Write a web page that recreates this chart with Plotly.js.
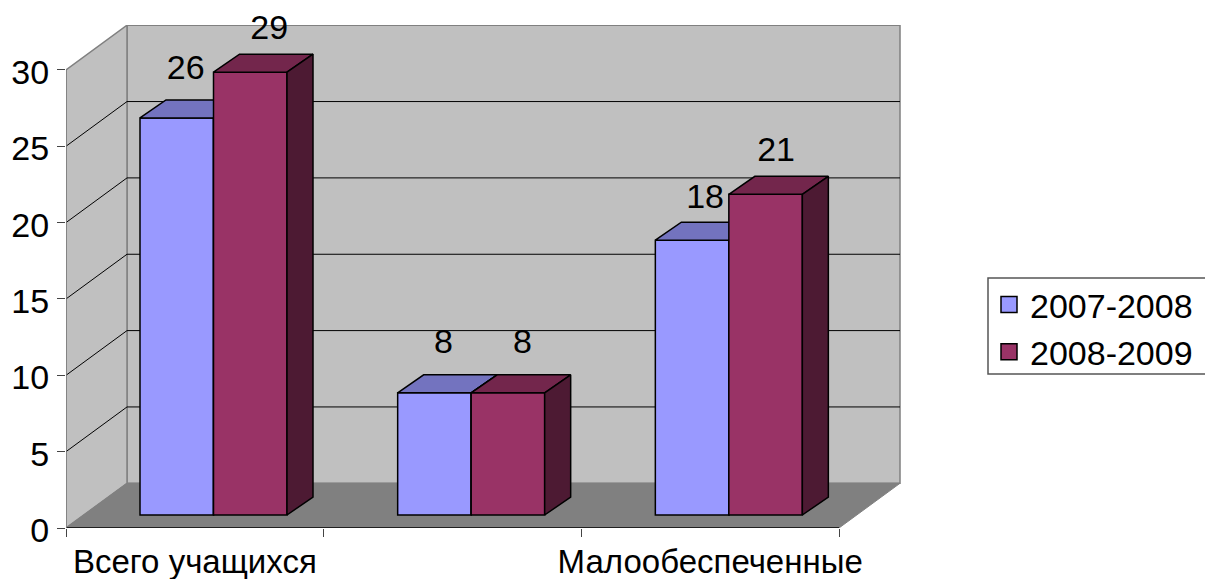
<!DOCTYPE html>
<html><head><meta charset="utf-8">
<script src="https://cdn.plot.ly/plotly-3.0.1.min.js"></script>
<style>html,body{margin:0;padding:0;background:#fff;overflow:hidden}</style>
</head><body><div id="chart" style="width:1205px;height:579px"></div>
<script>
// Data
var categories = ["Всего учащихся", "", "Малообеспеченные"];
var seriesNames = ["2007-2008", "2008-2009"];
var values2007 = [26, 8, 18];
var values2008 = [29, 8, 21];
var valueTicks = [0, 5, 10, 15, 20, 25, 30];

// Styles
var frontColors = ["#9999FF", "#993366"];
var topColors = ["#7373BF", "#73264C"];
var sideColors = ["#4D4D80", "#4D1A33"];

// Geometry (pixels per axis unit, and depth in pixels)
var W = 1205, H = 579, L = 66, R = 901, T = 25, B = 528;
var PX = 257.67, PY = 15.27;
var xMax = (R - L) / PX, yMax = (B - T) / PY;
var wallDx = 61 / PX, wallDy = 44.7 / PY;
var barDx = 26 / PX, barDy = 18 / PY;
var barBase = 13 / PY, barW = 73.5 / PX, barStart = 74 / PX;
var labelShiftX = [[9, 9, 13], [19, 14.5, 10.5]];
var labelShiftY = [[47, 48, 41], [42, 48, 42]];

function sub(i) { return i ? {xaxis: "x2", yaxis: "y2"} : {xaxis: "x", yaxis: "y"}; }
function seriesTraces(vals, s) {
  var off = barStart + s * barW, xs = vals.map(function (_, i) { return i; });
  var tx = [], ty = [], sx = [], sy = [], lx = [], ly = [], lt = [];
  vals.forEach(function (v, i) {
    var x0 = i + off, x1 = x0 + barW, yb = barBase, yt = barBase + v;
    tx.push(x0, x1, x1 + barDx, x0 + barDx, x0, null);
    ty.push(yt, yt, yt + barDy, yt + barDy, yt, null);
    sx.push(x1, x1 + barDx, x1 + barDx, x1, x1, null);
    sy.push(yb, yb + barDy, yt + barDy, yt, yb, null);
    lx.push(x0 + barW / 2 + labelShiftX[s][i] / PX);
    ly.push(yt + labelShiftY[s][i] / PY);
    lt.push(String(v));
  });
  var line = {color: "#000", width: 1.5};
  function merge(a) { var r = sub(s); for (var k in a) r[k] = a[k]; return r; }
  return [
    merge({type: "bar", x: xs, y: vals, base: barBase, width: barW, offset: off, name: seriesNames[s],
      marker: {color: frontColors[s], line: {color: "#000", width: 1.5}}, showlegend: false, hoverinfo: "skip"}),
    merge({type: "scatter", mode: "lines", x: tx, y: ty, fill: "toself", fillcolor: topColors[s], line: line, showlegend: false, hoverinfo: "skip"}),
    merge({type: "scatter", mode: "lines", x: sx, y: sy, fill: "toself", fillcolor: sideColors[s], line: line, showlegend: false, hoverinfo: "skip"}),
    merge({type: "scatter", mode: "text", x: lx, y: ly, text: lt, textposition: "middle center", cliponaxis: false,
      textfont: {family: "Liberation Sans, Arial, sans-serif", size: 34, color: "#000"}, showlegend: false, hoverinfo: "skip"}),
    merge({type: "scatter", mode: "markers", x: [null], y: [null], name: seriesNames[s], showlegend: true,
      marker: {symbol: "square", size: 16, color: frontColors[s], line: {color: "#000", width: 1.5}}})
  ];
}
var traces = seriesTraces(values2007, 0).concat(seriesTraces(values2008, 1));

// Walls, floor and gridlines follow the axes
var shapes = [];
function poly(pts, fill, lineColor, w) {
  var d = pts.map(function (p, i) { return (i ? "L" : "M") + p[0] + "," + p[1]; }).join("") + "Z";
  shapes.push({type: "path", xref: "x", yref: "y", path: d, fillcolor: fill, layer: "below",
    line: {color: lineColor, width: w}});
}
function seg(x0, y0, x1, y1, c, w) {
  shapes.push({type: "line", xref: "x", yref: "y", x0: x0, y0: y0, x1: x1, y1: y1, layer: "below", line: {color: c, width: w}});
}
var yTop = valueTicks[valueTicks.length - 1], nCat = categories.length;
poly([[wallDx, wallDy], [nCat + wallDx, wallDy], [nCat + wallDx, yTop + wallDy], [wallDx, yTop + wallDy]], "#C0C0C0", "#808080", 1.5);
poly([[0, 0], [wallDx, wallDy], [wallDx, yTop + wallDy], [0, yTop]], "#C0C0C0", "#808080", 1.5);
valueTicks.forEach(function (v) {
  if (v === 0 || v === yTop) return;
  seg(0, v, wallDx, v + wallDy, "#000", 1);
  seg(wallDx, v + wallDy, nCat + wallDx, v + wallDy, "#000", 1);
});
poly([[0, 0], [nCat, 0], [nCat + wallDx, wallDy], [wallDx, wallDy]], "#808080", "#808080", 1);
seg(0, 0, nCat, 0, "#000", 1.5);
seg(0, 0, 0, yTop, "#808080", 1.5);

// Legend frame runs off the right edge of the canvas, as in the reference
function px(x) { return (x - L) / (R - L); }
function py(y) { return (B - y) / (B - T); }
shapes.push({type: "rect", xref: "paper", yref: "paper", x0: px(988), x1: px(1230), y0: py(374), y1: py(278),
  fillcolor: "#fff", layer: "below", line: {color: "#555", width: 1.5}});

var font = {family: "Liberation Sans, Arial, sans-serif", size: 34, color: "#000"};
var catFont = {family: "Liberation Sans, Arial, sans-serif", size: 33, color: "#000"};
var layout = {
  width: W, height: H, autosize: false,
  margin: {l: L, r: W - R, t: T, b: H - B, pad: 0},
  paper_bgcolor: "#fff", plot_bgcolor: "rgba(0,0,0,0)",
  barmode: "overlay", showlegend: true, font: font, hovermode: false, shapes: shapes,
  xaxis: {range: [0, xMax], showgrid: false, zeroline: false, showline: false, ticks: "outside", ticklen: 8, tickwidth: 1, tickcolor: "#444",
    tickmode: "array", tickvals: [0, 1, 2, 3], ticktext: ["", "", "", ""], fixedrange: true},
  xaxis2: {range: [0, xMax], overlaying: "x", anchor: "y2", side: "bottom", showgrid: false, zeroline: false, showline: false, ticks: "",
    tickmode: "array", tickvals: categories.map(function (_, i) { return i + 0.5; }), ticktext: categories, tickangle: 0, tickfont: catFont,
    ticklabelstandoff: 11, fixedrange: true},
  yaxis: {range: [0, yMax], showgrid: false, zeroline: false, showline: false, ticks: "outside", ticklen: 8, tickwidth: 1, tickcolor: "#444",
    tickmode: "array", tickvals: valueTicks, ticktext: valueTicks.map(String), tickfont: font, ticklabelstandoff: 1, ticklabelshift: 2, fixedrange: true},
  yaxis2: {range: [0, yMax], overlaying: "y", visible: false, fixedrange: true},
  legend: {xref: "container", yref: "container", x: 988 / W, y: 1 - 276 / H, xanchor: "left", yanchor: "top", font: font,
    bgcolor: "rgba(0,0,0,0)", borderwidth: 0, itemwidth: 32, itemclick: false, itemdoubleclick: false}
};
Plotly.newPlot("chart", traces, layout, {displayModeBar: false, staticPlot: true});
</script></body></html>
